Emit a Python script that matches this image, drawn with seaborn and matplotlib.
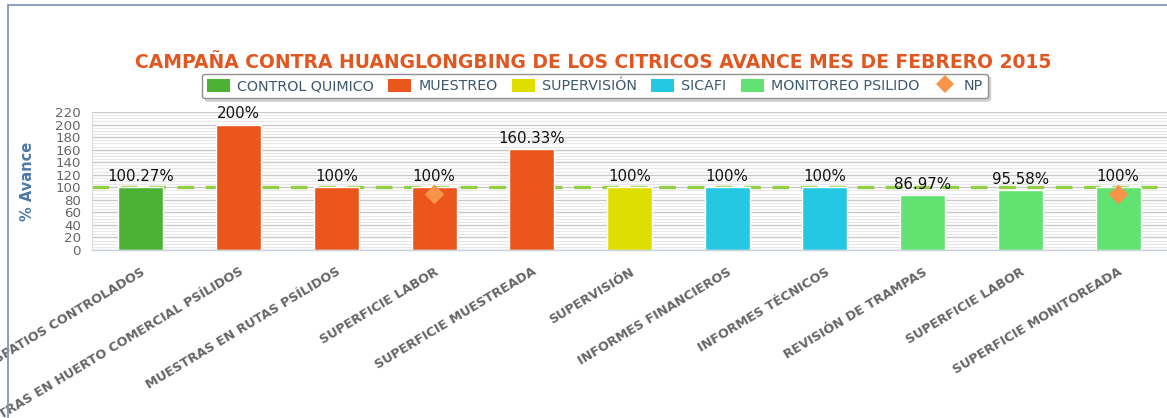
import numpy as np
import pandas as pd
import matplotlib.pyplot as plt
import seaborn as sns
from matplotlib.patches import Patch
from matplotlib.lines import Line2D

# data
categories = ["TRASPATIOS CONTROLADOS", "MUESTRAS EN HUERTO COMERCIAL PSÍLIDOS",
              "MUESTRAS EN RUTAS PSÍLIDOS", "SUPERFICIE LABOR", "SUPERFICIE MUESTREADA",
              "SUPERVISIÓN", "INFORMES FINANCIEROS", "INFORMES TÉCNICOS",
              "REVISIÓN DE TRAMPAS", "SUPERFICIE LABOR", "SUPERFICIE MONITOREADA"]
series = ["CONTROL QUIMICO", "MUESTREO", "MUESTREO", "MUESTREO", "MUESTREO",
          "SUPERVISIÓN", "SICAFI", "SICAFI",
          "MONITOREO PSILIDO", "MONITOREO PSILIDO", "MONITOREO PSILIDO"]
avance = [100.27, 200, 100, 100, 160.33, 100, 100, 100, 86.97, 95.58, 100]
np_idx = [3, 10]
np_vals = [90, 90]
meta = 100

series_order = ["CONTROL QUIMICO", "MUESTREO", "SUPERVISIÓN", "SICAFI", "MONITOREO PSILIDO"]
colors = {"CONTROL QUIMICO": "#4DB133", "MUESTREO": "#EA561C", "SUPERVISIÓN": "#DEDE00",
          "SICAFI": "#25C8E3", "MONITOREO PSILIDO": "#62E271"}

df = pd.DataFrame({"pos": range(len(categories)), "avance": avance, "serie": series})

sns.set_style("white")
fig = plt.figure(figsize=(11.67, 4.18), dpi=100)
ax = fig.add_axes([92 / 1167, 1 - 250 / 418, 1 - 92 / 1167, (250 - 112) / 418])

# grid: major every 20, minor every 5
ax.set_ylim(0, 220)
ax.set_yticks(np.arange(0, 221, 20))
ax.set_yticks(np.arange(0, 221, 5), minor=True)
ax.grid(axis="y", which="major", color="#C8C8C8", lw=1.0, zorder=0)
ax.grid(axis="y", which="minor", color="#E8E8E8", lw=0.8, zorder=0)
ax.set_axisbelow(True)

# meta line
ax.axhline(meta, color="#93CF45", lw=2.4, ls=(0, (5, 3.5)), zorder=1)

sns.barplot(data=df, x="pos", y="avance", hue="serie", hue_order=series_order,
            palette=colors, dodge=False, width=0.46, legend=False, ax=ax, zorder=2,
            saturation=1)

sns.scatterplot(x=np_idx, y=np_vals, marker="D", s=100, color="#F7944A",
                linewidth=0, ax=ax, zorder=4)

for i, v in enumerate(avance):
    ax.annotate(f"{v:g}%", (i, v), xytext=(0, 2.5), textcoords="offset points",
                ha="center", va="bottom", fontsize=10.8, color="#111111")

ax.set_xlim(-0.5, len(categories) - 0.5)
ax.set_xticks(range(len(categories)))
ax.set_xticklabels(categories, rotation=31, ha="right", rotation_mode="anchor",
                   fontsize=9.2, fontweight="bold", color="#666666")
ax.set_xticks(np.arange(-0.5, len(categories) - 0.5, 1), minor=True)
ax.tick_params(axis="x", which="major", length=0, pad=11)
ax.tick_params(axis="x", which="minor", length=5, width=2.2, color="#333333", direction="out")
ax.tick_params(axis="y", which="both", length=0, pad=8, labelsize=9.6, labelcolor="#666666")
ax.set_xlabel("")
ax.set_ylabel("% Avance", fontsize=10.5, color="#4A78A8", fontweight="bold")
ax.yaxis.set_label_coords(-0.053, 0.5)

for s in ["top", "right"]:
    ax.spines[s].set_visible(False)
ax.spines["left"].set_color("#DDDDDD")
ax.spines["left"].set_linewidth(0.8)
ax.spines["bottom"].set_color("#C8D2DC")
ax.spines["bottom"].set_linewidth(1.0)

fig.text(593 / 1167, 1 - 63 / 418,
         "CAMPAÑA CONTRA HUANGLONGBING DE LOS CITRICOS AVANCE MES DE FEBRERO 2015",
         ha="center", va="center", fontsize=13.5, fontweight="bold", color="#E2561F")

handles = [Patch(facecolor=colors[s], edgecolor="none") for s in series_order]
handles.append(Line2D([], [], marker="D", color="none", markerfacecolor="#F7944A",
                      markeredgewidth=0, markersize=9))
leg = fig.legend(handles, series_order + ["NP"], loc="center",
                 bbox_to_anchor=(595 / 1167, 1 - 86 / 418), ncol=6, fontsize=10.3,
                 frameon=True, fancybox=True, shadow={"color": "#BBBBBB", "alpha": 0.6},
                 edgecolor="#909090",
                 handlelength=1.6, handleheight=1.1, handletextpad=0.5,
                 columnspacing=1.0, borderpad=0.35, labelcolor="#3E576F")
leg.get_frame().set_linewidth(1.0)

# outer frame of the panel
fig.add_artist(Line2D([8 / 1167, 8 / 1167], [0, 1 - 5 / 418], color="#7D98BC", lw=1.3))
fig.add_artist(Line2D([8 / 1167, 1], [1 - 5 / 418, 1 - 5 / 418], color="#7D98BC", lw=1.3))

fig.savefig("out.png", dpi=100)
